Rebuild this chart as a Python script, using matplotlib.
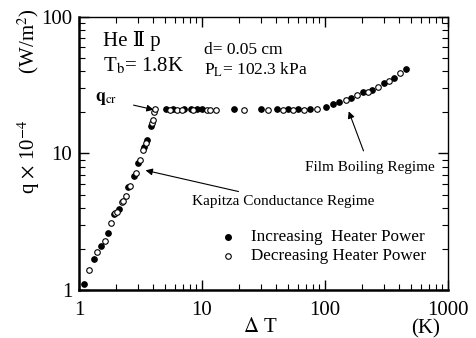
import matplotlib.pyplot as plt
from matplotlib.ticker import LogLocator, NullFormatter, FixedFormatter, FixedLocator

# data
inc_dT = [1.10, 1.32, 1.51, 1.72, 1.92, 2.13, 2.50, 2.82, 3.03, 3.39, 3.57, 3.85,
          5.10, 5.85, 7.18, 8.09, 9.16, 9.92, 18.3, 30.4, 40.8, 50.4, 60.6, 75.4,
          101.8, 116.9, 130.8, 163.2, 203.5, 243, 300, 366, 455]
inc_q = [1.10, 1.70, 2.10, 2.60, 3.60, 3.90, 5.66, 6.84, 8.57, 11.2, 12.5, 15.9,
         21.0, 21.0, 21.2, 21.2, 21.0, 21.0, 21.0, 21.0, 21.0, 21.0, 21.0, 21.0,
         21.9, 23.2, 24.0, 25.3, 28.2, 29.1, 32.9, 35.8, 41.6]

dec_dT = [1.20, 1.41, 1.62, 1.81, 1.97, 2.02, 2.22, 2.29, 2.41, 2.60, 2.90, 3.13,
          3.33, 3.50, 3.94, 4.01, 4.10, 4.15, 5.49, 6.22, 6.84, 8.50, 10.9, 11.6,
          13.1, 22.1, 34.6, 45.3, 55.1, 67.9, 85.6, 147.6, 183.7, 222, 270, 331, 404]
dec_q = [1.40, 1.90, 2.30, 3.10, 3.68, 3.75, 4.39, 4.50, 4.91, 5.78, 7.20, 8.98,
         10.6, 12.0, 16.6, 17.6, 20.2, 21.0, 20.8, 20.8, 20.8, 20.8, 20.8, 20.8,
         20.8, 20.8, 20.8, 20.8, 20.8, 20.8, 21.2, 24.6, 26.8, 28.2, 30.7, 33.9, 38.8]

xticks = [1, 10, 100, 1000]
xlabels = ["1", "10", "100", "1000"]
yticks = [1, 10, 100]
ylabels = ["1", "10", "100"]

plt.rcParams['font.family'] = ['Liberation Serif', 'DejaVu Serif']
plt.rcParams['mathtext.fontset'] = 'stix'

fig = plt.figure(figsize=(4.76, 3.38), dpi=100)
ax = fig.add_axes([0.166, 0.142, 0.775, 0.808])

ax.plot(inc_dT, inc_q, 'o', color='black', ms=4, mew=0.8)
ax.plot(dec_dT, dec_q, 'o', mfc='white', mec='black', ms=4, mew=0.8)

ax.set_xscale('log')
ax.set_yscale('log')
ax.set_xlim(1, 1000)
ax.set_ylim(1, 100)

ax.xaxis.set_major_locator(FixedLocator(xticks))
ax.xaxis.set_major_formatter(FixedFormatter(xlabels))
ax.yaxis.set_major_locator(FixedLocator(yticks))
ax.yaxis.set_major_formatter(FixedFormatter(ylabels))
ax.xaxis.set_minor_locator(LogLocator(base=10, subs=range(2, 10)))
ax.yaxis.set_minor_locator(LogLocator(base=10, subs=range(2, 10)))
ax.xaxis.set_minor_formatter(NullFormatter())
ax.yaxis.set_minor_formatter(NullFormatter())

ax.tick_params(which='both', direction='in', top=True, right=True, labelsize=15)
ax.tick_params(which='major', length=7, width=1)
ax.tick_params(which='minor', length=4, width=0.8)
ax.tick_params(axis='x', pad=8)
ax.tick_params(axis='y', pad=5)

for s in ['left', 'bottom']:
    ax.spines[s].set_linewidth(1.8)
for s in ['top', 'right']:
    ax.spines[s].set_linewidth(1.0)

# axis labels
fig.text(0.060, 0.700, r"q $\times$ 10$^{-4}$         (W/m$^2$)", rotation=90,
         ha='center', va='center', fontsize=15)
fig.text(0.546, 0.032, r"$\Delta$ T", ha='center', va='center', fontsize=15)
fig.text(0.895, 0.026, "(K)", ha='center', va='center', fontsize=15)

# annotations
ax.text(0.066, 0.91, "He Ⅱ p", transform=ax.transAxes, fontsize=15, va='center')
ax.text(0.066, 0.82, r"T$_\mathrm{b}$= 1.8K", transform=ax.transAxes, fontsize=15, va='center')
ax.text(0.340, 0.879, "d= 0.05 cm", transform=ax.transAxes, fontsize=12.5, va='center')
ax.text(0.340, 0.806, r"P$_\mathrm{L}$= 102.3 kPa", transform=ax.transAxes, fontsize=12.5, va='center')

ax.annotate(r"$\mathbf{q}_{\mathrm{cr}}$", xy=(4.15, 20.8), xytext=(1.35, 25.1),
            fontsize=13, fontweight='bold', va='center',
            arrowprops=dict(arrowstyle='-|>', color='black', lw=0.8, mutation_scale=10,
                            shrinkA=10, shrinkB=1))
ax.annotate("Kapitza Conductance Regime", xy=(3.39, 7.56), xytext=(8.3, 4.43),
            fontsize=11, va='center',
            arrowprops=dict(arrowstyle='-|>', color='black', lw=0.8, mutation_scale=10,
                            shrinkA=3, shrinkB=1))
ax.annotate("Film Boiling Regime", xy=(154.6, 20.8), xytext=(232, 7.83),
            fontsize=11, va='center', ha='center',
            arrowprops=dict(arrowstyle='-|>', color='black', lw=0.8, mutation_scale=10,
                            shrinkA=6, shrinkB=1))

# legend drawn as text with markers
ax.plot([16.2], [2.43], 'o', color='black', ms=4, clip_on=False)
ax.plot([16.2], [1.775], 'o', mfc='white', mec='black', ms=4, mew=0.8, clip_on=False)
ax.text(25.0, 2.43, "Increasing  Heater Power", fontsize=12.3, va='center')
ax.text(25.0, 1.775, "Decreasing Heater Power", fontsize=12.3, va='center')

fig.savefig("out.png", dpi=100)
